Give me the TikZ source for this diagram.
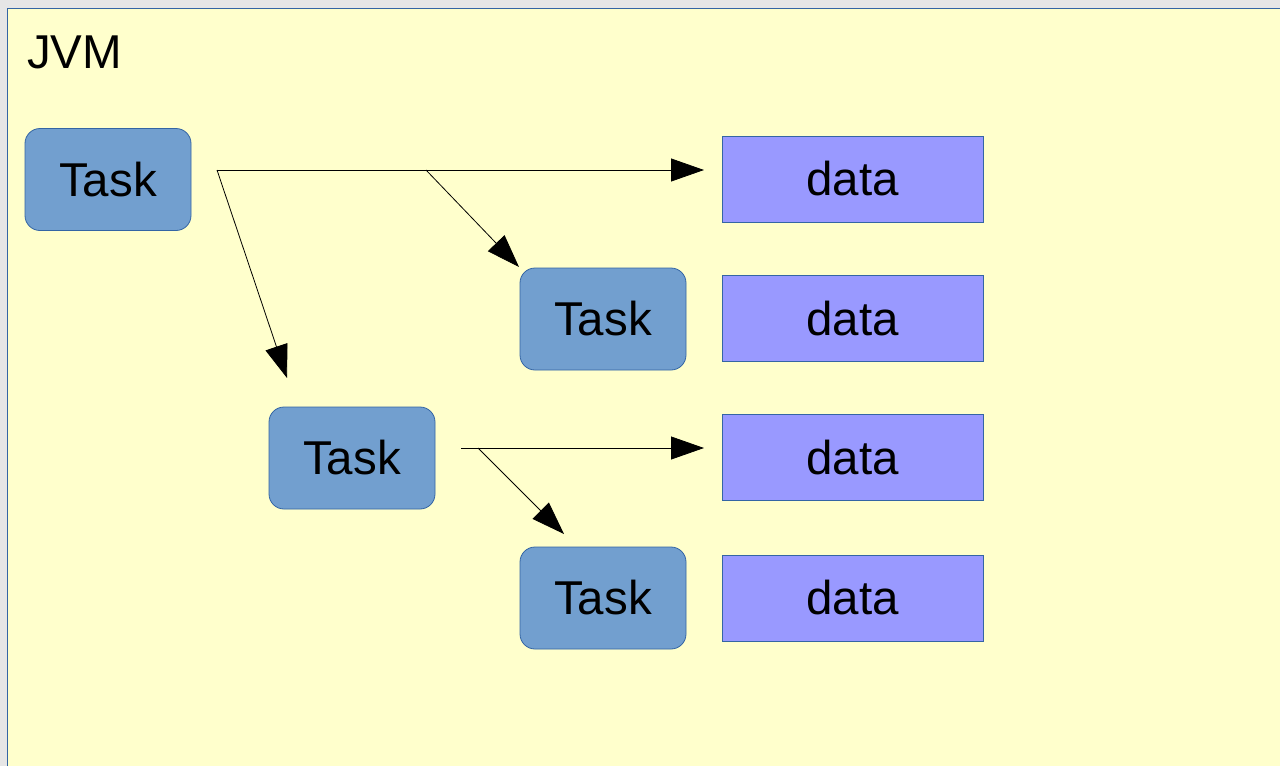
\documentclass[tikz,border=0pt]{standalone}
\usepackage{fontspec}
\setmainfont{Liberation Sans}
\usetikzlibrary{arrows.meta}
\definecolor{bggray}{HTML}{E6E6E6}
\definecolor{jvmfill}{HTML}{FFFFCC}
\definecolor{edgeblue}{HTML}{3465A4}
\definecolor{taskfill}{HTML}{729FCF}
\definecolor{datafill}{HTML}{9999FF}
\tikzset{
  bigtext/.style={font=\fontsize{47.5}{57}\selectfont},
  taskbox/.style={draw=edgeblue, fill=taskfill, rounded corners=15pt, line width=0.8pt,
    minimum width=166pt, minimum height=102pt, inner sep=0pt, bigtext},
  databox/.style={draw=edgeblue, fill=datafill, line width=0.8pt,
    minimum width=261pt, minimum height=86pt, inner sep=0pt, bigtext},
  conn/.style={draw=black, line width=0.8pt, -{Triangle[length=33pt,width=23pt]}}
}
\begin{document}
\begin{tikzpicture}[x=1pt,y=-1pt]
\useasboundingbox (0,0) rectangle (1280,766);
\fill[bggray] (0,0) rectangle (1280,766);
\fill[jvmfill] (7.5,8.5) rectangle (1280,766);
\draw[edgeblue, line width=1pt] (7.5,766) -- (7.5,8.5) -- (1280,8.5);
\node[anchor=base west, inner sep=0pt, bigtext] (jvm) at (27,68) {JVM};

\node[taskbox] (t1) at (108,179.5) {Task};
\node[taskbox] (t2) at (603,319) {Task};
\node[taskbox] (t3) at (352,458) {Task};
\node[taskbox] (t4) at (603,598) {Task};

\node[databox] (d1) at (852.5,179) {data};
\node[databox] (d2) at (852.5,318.5) {data};
\node[databox] (d3) at (852.5,457.5) {data};
\node[databox] (d4) at (852.5,598) {data};

\coordinate (s1) at (217,170);
\coordinate (b1) at (426,170);
\coordinate (e1) at (704,170);
\coordinate (e2) at (519,267);
\coordinate (e3) at (287,378);
\coordinate (s2) at (461,448);
\coordinate (b2) at (478,448);
\coordinate (e4) at (704,448);
\coordinate (e5) at (564,534);

\draw[conn] (s1) -- (e1);
\draw[conn] (b1) -- (e2);
\draw[conn] (s1) -- (e3);
\draw[conn] (s2) -- (e4);
\draw[conn] (b2) -- (e5);
\end{tikzpicture}
\end{document}
